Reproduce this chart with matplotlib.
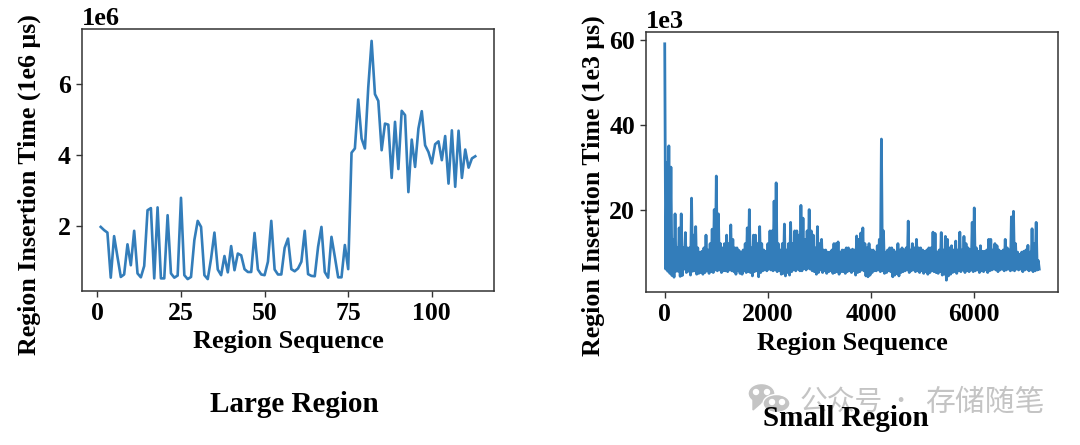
import numpy as np
import matplotlib
matplotlib.use('Agg')
import matplotlib.pyplot as plt
from matplotlib.patches import Ellipse, Polygon

plt.rcParams['font.family'] = ['Liberation Serif', 'DejaVu Serif']
plt.rcParams['font.weight'] = 'bold'
plt.rcParams['axes.labelweight'] = 'bold'
plt.rcParams['font.size'] = 18.5
plt.rcParams['axes.edgecolor'] = '#333333'
plt.rcParams['axes.linewidth'] = 1.1

LINE = '#337dba'
W, H = 1080.0, 445.0

# large region, in units of 1e6 us
large_time = [1.97, 1.88, 1.81, 0.54, 1.71, 1.13, 0.56, 0.63, 1.48, 0.89,
              1.86, 0.66, 0.55, 0.87, 2.44, 2.50, 0.52, 2.52, 0.52, 0.52,
              2.30, 0.66, 0.54, 0.60, 2.79, 0.61, 0.50, 0.56, 1.60, 2.14,
              1.97, 0.61, 0.50, 1.08, 1.81, 0.77, 0.61, 1.15, 0.69, 1.43,
              0.75, 1.22, 1.17, 0.78, 0.70, 0.70, 1.80, 0.77, 0.63, 0.61,
              0.99, 2.14, 0.77, 0.63, 0.63, 1.38, 1.64, 0.78, 0.72, 0.80,
              0.99, 1.86, 0.64, 0.59, 0.58, 1.41, 1.97, 0.70, 0.54, 1.69,
              1.13, 0.55, 0.55, 1.46, 0.78, 4.06, 4.18, 5.56, 4.46, 4.18,
              5.90, 7.21, 5.71, 5.52, 4.13, 4.88, 4.85, 3.35, 4.93, 3.60,
              5.24, 5.12, 2.95, 4.43, 3.66, 4.74, 5.23, 4.27, 4.08, 3.76,
              4.30, 4.38, 3.85, 4.53, 3.19, 4.69, 3.10, 4.68, 3.35, 4.15,
              3.64, 3.90, 3.96]

# small region, upper and lower envelope every 40 regions, in units of 1e3 us
small_high = [59, 31, 35, 30, 13, 19, 11, 15.7, 19, 11,
              14.6, 11, 11, 22.7, 14, 16, 11, 10, 10.2, 11,
              14, 10.5, 12, 15.4, 20, 27.9, 19, 12, 11, 12,
              14, 12, 16.4, 13, 11, 11, 10.4, 10, 10.5, 12,
              15.7, 20, 11, 14, 14, 12, 16, 12, 10.5, 10.2,
              12, 15, 15, 22, 26.3, 12, 10.5, 12, 16.6, 10.5,
              12, 17, 12, 15, 15, 14, 21, 18, 13, 15,
              20, 15, 14, 11, 16, 12, 13, 10.5, 10.5, 10,
              10, 10.5, 12, 12, 12.4, 10, 10.5, 10.5, 11, 11,
              10.5, 10.7, 10.5, 13.8, 13, 14.5, 15.7, 12, 11, 12,
              10.5, 10.5, 10, 11.5, 13, 36.6, 15, 10, 10.5, 11,
              11, 10.5, 10, 12, 10.5, 11, 10.5, 11, 17.3, 10.5,
              12, 11, 13, 11, 11, 10.5, 10.2, 10.5, 11, 11,
              14.7, 14.4, 10, 10.5, 14.6, 10.5, 13.7, 13, 11, 11.5,
              10.5, 12.6, 10.5, 14.7, 10.5, 13.7, 12, 11, 10.5, 17,
              20.4, 11, 10.2, 11.5, 10.2, 10.2, 10.5, 13, 13, 10.5,
              12, 11.5, 10.5, 10.2, 10.5, 13, 11, 10.5, 18.3, 19.6,
              12, 10, 9.5, 10, 10.2, 10.5, 11.6, 10, 15.5, 12,
              17, 8]
small_low = [6, 5.5, 5, 4.5, 4.1, 5.5, 5.5, 4.3, 4.5, 6,
             5.2, 5.5, 4.6, 5.5, 5.6, 4.8, 5, 5.2, 4.8, 5.2,
             5.6, 5, 5.4, 5.2, 5.8, 5.6, 5.8, 5.2, 5.6, 5.6,
             5.4, 5.8, 5.6, 5.4, 4.8, 5.6, 5, 4.8, 5.6, 5.2,
             5.4, 5.2, 4.4, 5.4, 5.6, 4.2, 5.2, 5.6, 5.8, 5.6,
             6, 5.8, 5.6, 5.8, 5.4, 5.6, 4.8, 5, 4.4, 5.2,
             4.6, 5.4, 5.8, 5.6, 6, 5.6, 5.6, 6.2, 5.8, 6.2,
             6, 5.6, 5.4, 4.8, 5.2, 5.8, 5.2, 5.6, 5, 5.4,
             5.6, 5, 5.2, 5.4, 4.8, 5.4, 5.4, 5, 5.4, 5.6,
             5.2, 5.6, 4.6, 5.2, 5.4, 5.8, 5.6, 4.4, 4.2, 4.6,
             5.2, 5.6, 5.6, 5.8, 5.4, 5.6, 5, 5.2, 5.6, 5.4,
             4.2, 4.6, 5, 4.4, 5.2, 5.4, 5.6, 5.8, 5.2, 5.6,
             5.8, 5.4, 5.6, 5.2, 5.6, 5, 5.4, 4.8, 5.2, 5.6,
             5.4, 5.2, 5, 5.4, 4.6, 4.8, 3.4, 4.4, 4.8, 5.2,
             5.4, 5, 5.6, 5.4, 5.8, 5.2, 5.6, 5.4, 5.8, 5.4,
             5.6, 5.8, 5.2, 5.6, 5.4, 5.8, 5.2, 5.6, 5.8, 6,
             5.8, 5.4, 5.8, 6, 5.6, 5.8, 6, 5.6, 5.8, 5.6,
             6, 5.8, 6, 5.4, 5.8, 6, 5.6, 5.8, 5.4, 5.6,
             5.8, 6]

large_xticks = [0, 25, 50, 75, 100]
small_xticks = [0, 2000, 4000, 6000]
large_yticks = [2, 4, 6]
small_yticks = [20, 40, 60]


def place(fig, left, top, right, bottom):
    return fig.add_axes([left / W, 1 - bottom / H, (right - left) / W, (bottom - top) / H])


def style(ax, xticks, yticks, scale, exp, ylabel, ycoord, xcoord):
    ax.set_xticks(xticks)
    ax.set_yticks([v * scale for v in yticks])
    ax.ticklabel_format(axis='y', style='sci', scilimits=(exp, exp))
    ax.yaxis.get_offset_text().set_fontweight('bold')
    ax.yaxis.get_offset_text().set_fontsize(19)
    ax.tick_params(length=4, width=1, color='#333333', pad=4)
    ax.set_xlabel('Region Sequence', fontsize=19)
    ax.set_ylabel(ylabel, fontsize=18.6)
    ax.yaxis.set_label_coords(*ycoord)
    ax.xaxis.set_label_coords(*xcoord)


fig = plt.figure(figsize=(10.8, 4.45), dpi=100)

ax1 = place(fig, 82, 29, 494, 291)
ax1.plot(np.arange(1, len(large_time) + 1), np.array(large_time) * 1e6, color=LINE, lw=1.9)
style(ax1, large_xticks, large_yticks, 1e6, 6, 'Region Insertion Time (1e6 μs)',
      (-0.10, 0.405), (0.5, -0.15))

ax2 = place(fig, 646, 32, 1058, 292)
seq = np.arange(len(small_high)) * 40
xs = np.column_stack((seq, seq + 20)).ravel()
ys = np.column_stack((small_high, small_low)).ravel() * 1e3
ax2.plot(xs, ys, color=LINE, lw=2.0)
style(ax2, small_xticks, small_yticks, 1e3, 3, 'Region Insertion Time (1e3 μs)',
      (-0.099, 0.408), (0.5, -0.155))

# watermark goes under the caption
GREY = '#c4c4c4'
for cx, cy, w, h in [(761.5, 393.5, 27, 20), (776.5, 403.5, 27, 18)]:
    fig.add_artist(Ellipse((cx / W, 1 - cy / H), w / W, h / H, color=GREY,
                           ec='white', lw=1, transform=fig.transFigure, zorder=1))
fig.add_artist(Polygon([(753 / W, 1 - 400 / H), (753 / W, 1 - 410 / H), (761 / W, 1 - 403 / H)],
                       color=GREY, transform=fig.transFigure, zorder=1))
for cx, cy in [(756, 392), (767, 392), (772, 402), (782, 402)]:
    fig.add_artist(Ellipse((cx / W, 1 - cy / H), 5 / W, 5 / H, color='white',
                           transform=fig.transFigure, zorder=1.5))
cjk = ['Noto Sans CJK SC', 'DejaVu Sans']
fig.text(800 / W, 1 - 402 / H, '公众号', family=cjk, fontweight='normal', fontsize=20,
         color=GREY, va='center', zorder=2)
fig.text(889 / W, 1 - 402 / H, '·', family=cjk, fontweight='normal', fontsize=16,
         color=GREY, va='center', zorder=2)
fig.text(925 / W, 1 - 402 / H, '存储随笔', family=cjk, fontweight='normal', fontsize=21.5,
         color=GREY, va='center', zorder=2)

fig.text(294.5 / W, 1 - 404.5 / H, 'Large Region', ha='center', va='center', fontsize=21, zorder=3)
fig.text(846 / W, 1 - 418 / H, 'Small Region', ha='center', va='center', fontsize=21, zorder=3)

fig.savefig('out.png', dpi=100)
